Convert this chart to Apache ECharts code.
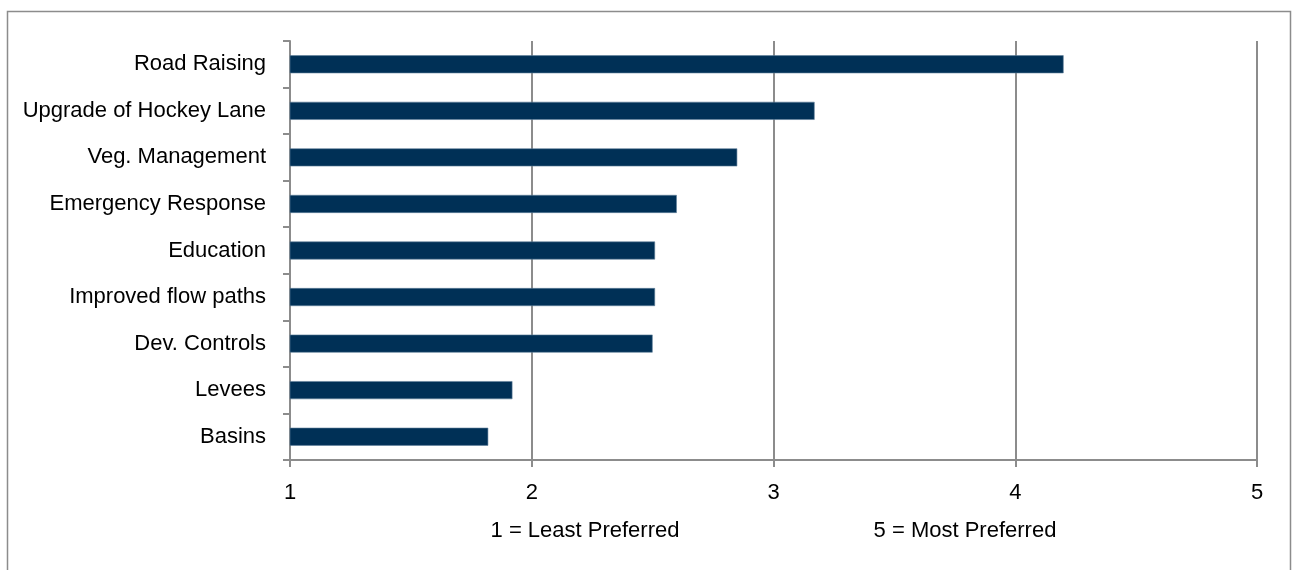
<!DOCTYPE html>
<html>
<head>
<meta charset="utf-8">
<script src="https://cdn.jsdelivr.net/npm/echarts@6/dist/echarts.min.js"></script>
<style>
  html, body { margin: 0; padding: 0; background: #ffffff; }
  #chart { width: 1293px; height: 570px; }
</style>
</head>
<body>
<div id="chart"></div>
<script>
// Mean preference score per flood mitigation option (1 = least, 5 = most preferred)
const categories = [
  'Road Raising',
  'Upgrade of Hockey Lane',
  'Veg. Management',
  'Emergency Response',
  'Education',
  'Improved flow paths',
  'Dev. Controls',
  'Levees',
  'Basins'
];
const scores = [4.20, 3.17, 2.85, 2.60, 2.51, 2.51, 2.50, 1.92, 1.82];
const scaleNotes = ['1 = Least Preferred', '5 = Most Preferred'];

const chart = echarts.init(document.getElementById('chart'));
const font = '"Liberation Sans", Arial, sans-serif';
const axisGrey = '#8c8c8c';

chart.setOption({
  animation: false,
  backgroundColor: '#ffffff',
  grid: { left: 290, right: 36, top: 41, bottom: 110, containLabel: false },
  xAxis: {
    type: 'value',
    min: 1,
    max: 5,
    interval: 1,
    axisLine: { show: true, lineStyle: { color: axisGrey, width: 2 } },
    axisTick: { show: true, length: 7, lineStyle: { color: axisGrey, width: 2 } },
    splitLine: { show: true, lineStyle: { color: axisGrey, width: 2 } },
    axisLabel: { color: '#000', fontFamily: font, fontSize: 22, margin: 22 }
  },
  yAxis: {
    type: 'category',
    data: categories,
    inverse: true,
    axisLine: { show: true, lineStyle: { color: axisGrey, width: 2 } },
    axisTick: { show: true, length: 7, inside: false, lineStyle: { color: axisGrey, width: 2 } },
    axisLabel: { color: '#000', fontFamily: font, fontSize: 22, margin: 24 }
  },
  series: [{
    type: 'bar',
    data: scores,
    barWidth: 18,
    itemStyle: { color: '#003056', borderColor: '#5f7f9a', borderWidth: 0.6 }
  }],
  graphic: [
    {
      type: 'rect',
      shape: { x: 7.5, y: 11.5, width: 1283, height: 600 },
      style: { fill: 'none', stroke: '#8c8c8c', lineWidth: 1.5 },
      silent: true
    },
    {
      type: 'text',
      x: 585, y: 531,
      style: { text: scaleNotes[0], font: '22px ' + font, fill: '#000', align: 'center', verticalAlign: 'middle' }
    },
    {
      type: 'text',
      x: 965, y: 531,
      style: { text: scaleNotes[1], font: '22px ' + font, fill: '#000', align: 'center', verticalAlign: 'middle' }
    }
  ]
});
</script>
</body>
</html>
